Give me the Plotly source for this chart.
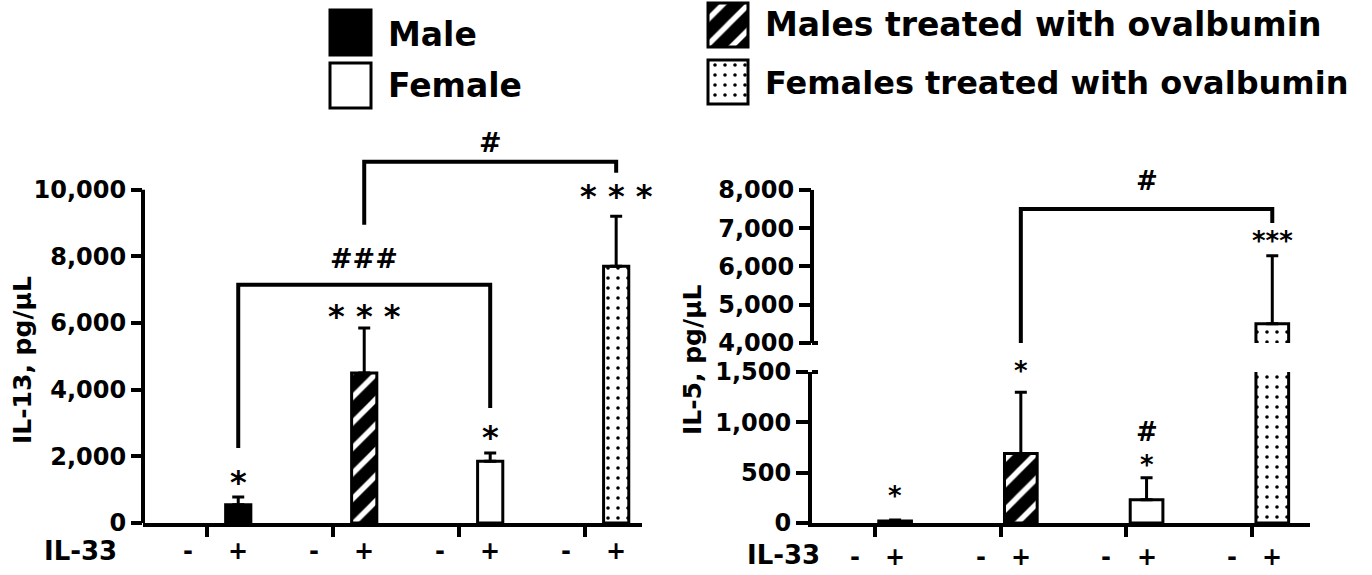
import plotly.graph_objects as go

W, H = 1372, 575

# ---------------- data ----------------
groups = ["Male", "Males treated with ovalbumin", "Female", "Females treated with ovalbumin"]
il33_labels = ["-", "+"]

il13_minus = [0, 0, 0, 0]
il13_plus = [550, 4500, 1850, 7700]
il13_plus_err = [230, 1350, 250, 1500]

il5_minus = [0, 0, 0, 0]
il5_plus = [20, 690, 230, 4500]
il5_plus_err = [10, 610, 220, 1780]

il13_ticks = [0, 2000, 4000, 6000, 8000, 10000]
il5_low_ticks = [0, 500, 1000, 1500]
il5_high_ticks = [4000, 5000, 6000, 7000, 8000]

# significance marks: (group index, y value, text)
il13_marks = [(0, 1350, "*"), (1, 6330, "* * *"), (2, 2700, "*"), (3, 9940, "* * *")]
il5_low_marks = [(0, 300, "*"), (1, 1540, "*"), (2, 605, "*"), (2, 905, "#")]
il5_high_marks = [(3, 6745, "***")]

# brackets: (from group, to group, left foot, top, right foot, label, label y)
il13_brackets = [(0, 2, 2250, 7150, 3450, "###", 7950), (1, 3, 8950, 10840, 10510, "#", 11440)]
il5_brackets = [(1, 3, 4000, 7500, 7136, "#", 8260)]

# ---------------- styles ----------------
FONT = "DejaVu Sans"
styles = {
    "Male": dict(color="black", pattern=dict(shape="")),
    "Female": dict(color="white", pattern=dict(shape="")),
    "Males treated with ovalbumin": dict(color="black", pattern=dict(
        shape="/", fgcolor="white", bgcolor="black", size=18, solidity=0.3, fillmode="replace")),
    "Females treated with ovalbumin": dict(color="white", pattern=dict(
        shape=".", fgcolor="black", bgcolor="white", size=10, solidity=0.1, fillmode="replace")),
}

L_OFF, L_W, L_TICK = 0.2, 0.2, -0.05
R_OFF, R_W = 0.16, 0.26
IL5_LOW_RANGE = [0, 1500]


def px(p):
    return p / W


def py(p):
    return 1 - p / H


fig = go.Figure()


def add_group_bars(i, g, minus, plus, err, off, width, xa, ya):
    st = styles[g]
    # IL-33 "-" bar (no error bar, no outline: value ~0)
    fig.add_trace(go.Bar(
        x=[i - off], y=[minus], width=width,
        marker=dict(color=st["color"], pattern=st["pattern"], line=dict(color="black", width=0)),
        xaxis=xa, yaxis=ya, showlegend=False, name=g + " (IL-33 -)"))
    # IL-33 "+" bar with upward error bar
    fig.add_trace(go.Bar(
        x=[i + off], y=[plus], width=width,
        marker=dict(color=st["color"], pattern=st["pattern"], line=dict(color="black", width=3)),
        error_y=dict(type="data", symmetric=False, array=[err], arrayminus=[0],
                     color="black", thickness=3, width=6),
        xaxis=xa, yaxis=ya, showlegend=False, name=g + " (IL-33 +)"))


# left chart: IL-13
for i, g in enumerate(groups):
    add_group_bars(i, g, il13_minus[i], il13_plus[i], il13_plus_err[i], L_OFF, L_W, "x", "y")

# right chart: IL-5 (lower and upper segments of the broken axis)
for ax_x, ax_y in (("x2", "y2"), ("x3", "y3")):
    for i, g in enumerate(groups):
        add_group_bars(i, g, il5_minus[i], il5_plus[i], il5_plus_err[i], R_OFF, R_W, ax_x, ax_y)

# legend swatches (own small axes in pixel units)
legend_swatches = [
    ("Male", 350.5, 10, 45, 41), ("Female", 350.5, 63, 45, 41),
    ("Males treated with ovalbumin", 728, 3, 44, 40), ("Females treated with ovalbumin", 728, 60, 44, 40),
]
for g, cx, top, h, w in legend_swatches:
    st = styles[g]
    fig.add_trace(go.Bar(
        x=[cx], y=[h], base=[top], width=[w],
        marker=dict(color=st["color"], pattern=st["pattern"], line=dict(color="black", width=3)),
        xaxis="x4", yaxis="y4", showlegend=False, hoverinfo="skip"))

axis_common = dict(showgrid=False, zeroline=False, linecolor="black", tickcolor="black", automargin=False,
                   tickfont=dict(family=FONT, size=24, color="black", weight="bold"))

fig.update_layout(
    width=W, height=H, margin=dict(l=0, r=0, t=0, b=0, pad=0, autoexpand=False),
    paper_bgcolor="white", plot_bgcolor="rgba(0,0,0,0)",
    barmode="overlay", showlegend=False,
    xaxis=dict(domain=[px(143), px(642)], range=[-0.556, 3.405], anchor="y",
               showline=True, linewidth=4, ticks="outside", ticklen=10, tickwidth=4,
               tickvals=[i + L_TICK for i in range(4)], showticklabels=False, **axis_common),
    yaxis=dict(domain=[py(523), py(123)], range=[0, 12000], anchor="x",
               showline=False, ticks="outside", ticklen=11, tickwidth=4,
               tickvals=il13_ticks, tickformat=",d", **axis_common),
    xaxis2=dict(domain=[px(812), px(1310)], range=[-0.501, 3.46], anchor="y2",
                showline=True, linewidth=4, ticks="outside", ticklen=10, tickwidth=4,
                tickvals=list(range(4)), showticklabels=False, **axis_common),
    yaxis2=dict(domain=[py(523), py(372)], range=IL5_LOW_RANGE, anchor="x2",
                showline=True, linewidth=4, ticks="outside", ticklen=12, tickwidth=4,
                tickvals=il5_low_ticks, tickformat=",d", **axis_common),
    xaxis3=dict(domain=[px(812), px(1310)], range=[-0.501, 3.46], anchor="y3", visible=False,
                automargin=False),
    yaxis3=dict(domain=[py(343), py(167)], range=[4000, 8600], anchor="x3",
                showline=False, ticks="outside", ticklen=12, tickwidth=4,
                tickvals=il5_high_ticks, tickformat=",d", **axis_common),
    xaxis4=dict(domain=[px(320), px(760)], range=[320, 760], anchor="y4", visible=False, automargin=False),
    yaxis4=dict(domain=[py(115), 1], range=[115, 0], anchor="x4", visible=False, automargin=False),
)

shapes = []
line = dict(color="black", width=4)
# y axis lines that stop at the top tick
shapes.append(dict(type="line", xref="x domain", x0=0, x1=0, yref="y", y0=0, y1=il13_ticks[-1], line=line))
shapes.append(dict(type="line", xref="x3 domain", x0=0, x1=0, yref="y3",
                   y0=il5_high_ticks[0], y1=il5_high_ticks[-1], line=line))
# axis break nubs
shapes.append(dict(type="line", xref="x2 domain", x0=0, x1=0.012, yref="y2 domain", y0=1, y1=1, line=line))
shapes.append(dict(type="line", xref="x3 domain", x0=0, x1=0.012, yref="y3 domain", y0=0, y1=0, line=line))

for a, b, f1, top, f2, lab, ly in il13_brackets:
    xa, xb = a + L_OFF, b + L_OFF
    shapes.append(dict(type="path", xref="x", yref="y",
                       path=f"M {xa},{f1} L {xa},{top} L {xb},{top} L {xb},{f2}", line=line))
for a, b, f1, top, f2, lab, ly in il5_brackets:
    xa, xb = a + R_OFF, b + R_OFF
    shapes.append(dict(type="path", xref="x3", yref="y3",
                       path=f"M {xa},{f1} L {xa},{top} L {xb},{top} L {xb},{f2}", line=line))

ann = []


def txt(text, size, **kw):
    d = dict(text=text, showarrow=False, font=dict(family=FONT, size=size, color="black", weight="bold"))
    d.update(kw)
    ann.append(d)


def mark(text, size, x, y, xref, yref):
    shift = -0.13 * size if "*" in text else -0.02 * size
    txt(text, size, x=x, y=y, xref=xref, yref=yref, xanchor="center", yanchor="middle", yshift=shift)


for gi, yv, t in il13_marks:
    mark(t, 32, gi + L_OFF, yv, "x", "y")
for a, b, f1, top, f2, lab, ly in il13_brackets:
    mark(lab, 27, (a + b) / 2 + L_OFF, ly, "x", "y")
for gi, yv, t in il5_low_marks:
    # marks above the lower segment's top use domain units so they stay visible
    mark(t, 26, gi + R_OFF, (yv - IL5_LOW_RANGE[0]) / (IL5_LOW_RANGE[1] - IL5_LOW_RANGE[0]),
         "x2", "y2 domain")
for gi, yv, t in il5_high_marks:
    mark(t, 26, gi + R_OFF, yv, "x3", "y3")
for a, b, f1, top, f2, lab, ly in il5_brackets:
    mark(lab, 26, (a + b) / 2 + R_OFF, ly, "x3", "y3")

# IL-33 -/+ row labels
for i in range(4):
    for k, s in enumerate(il33_labels):
        txt(s, 24, x=i + (-L_OFF if k == 0 else L_OFF), y=py(551), xref="x", yref="paper",
            xanchor="center", yanchor="middle")
        txt(s, 24, x=i + (-R_OFF if k == 0 else R_OFF), y=py(557), xref="x2", yref="paper",
            xanchor="center", yanchor="middle")
txt("IL-33", 26, x=px(80), y=py(551), xref="paper", yref="paper", xanchor="center", yanchor="middle")
txt("IL-33", 26, x=px(783), y=py(555), xref="paper", yref="paper", xanchor="center", yanchor="middle")

# axis titles
txt("IL-13, pg/μL", 25, x=px(22), y=py(360), xref="paper", yref="paper", textangle=-90,
    xanchor="center", yanchor="middle")
txt("IL-5, pg/μL", 25, x=px(692), y=py(360), xref="paper", yref="paper", textangle=-90,
    xanchor="center", yanchor="middle")

# legend texts
txt("Male", 33, x=px(386), y=py(35), xref="paper", yref="paper", xanchor="left", yanchor="middle")
txt("Female", 33, x=px(386), y=py(85), xref="paper", yref="paper", xanchor="left", yanchor="middle")
txt("Males treated with ovalbumin", 33, x=px(763), y=py(25), xref="paper", yref="paper",
    xanchor="left", yanchor="middle")
txt("Females treated with ovalbumin", 32, x=px(763), y=py(83), xref="paper", yref="paper",
    xanchor="left", yanchor="middle")

fig.update_layout(shapes=shapes, annotations=ann)
fig.write_html("out.html", config={"displayModeBar": False, "staticPlot": True},
               post_script="document.body.style.margin='0px';")
